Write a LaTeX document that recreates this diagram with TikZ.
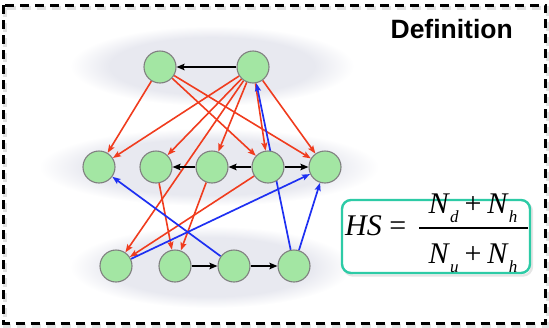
\documentclass[tikz,border=0pt]{standalone}
\usepackage{fontspec}
\setmainfont{Liberation Sans}
\newfontfamily\formulafont{Liberation Serif}
\usetikzlibrary{arrows.meta,backgrounds}

\definecolor{nodefill}{HTML}{A3E6A3}
\definecolor{nodeline}{HTML}{808080}
\definecolor{edgered}{HTML}{F03C1E}
\definecolor{edgeblue}{HTML}{1E30F2}
\definecolor{layerfill}{HTML}{E8E9F0}
\definecolor{boxline}{HTML}{2DCBA6}

% soft-edged layer band: flat core that fades out to white at the rim
\pgfdeclareradialshading{layershade}{\pgfpoint{0bp}{0bp}}{%
  color(0bp)=(layerfill); color(18bp)=(layerfill); color(25bp)=(white); color(50bp)=(white)}

% italic N with a lowered index
\newcommand\Nsub[1]{\textit{N}\raisebox{-0.3em}{\fontsize{17}{17}\selectfont\textit{#1}}}

\begin{document}
\begin{tikzpicture}[x=1pt,y=-1pt,
  vertex/.style={circle,draw=nodeline,fill=nodefill,line width=1.1pt,minimum size=32pt,inner sep=0pt},
  tip/.style={-{Stealth[length=8pt,width=6pt,inset=1.5pt]}},
  redline/.style={tip,draw=edgered,line width=1.6pt},
  blueline/.style={tip,draw=edgeblue,line width=1.7pt},
  blackline/.style={-{Stealth[length=8pt,width=6.5pt,inset=1.5pt]},draw=black,line width=2pt},
  formula/.style={font=\formulafont\fontsize{30}{30}\selectfont,inner sep=0pt}]

\useasboundingbox (0,0) rectangle (549,327);

% dashed outer frame with a faint shadow
\draw[gray!50,opacity=0.45,line width=4pt,dash pattern=on 9pt off 6pt] (5,7.5) rectangle (547.5,325.5);
\draw[line width=3pt,dash pattern=on 9pt off 6pt] (3.5,5) rectangle (545.5,323);

\node[anchor=base east,font=\fontsize{26.5}{30}\selectfont\bfseries,inner sep=0pt] (title) at (513,38) {Definition};

% vertices
\node[vertex] (t1) at (160,67) {};
\node[vertex] (t2) at (253,67) {};

\node[vertex] (m1) at (99,167) {};
\node[vertex] (m2) at (156,167) {};
\node[vertex] (m3) at (212,167) {};
\node[vertex] (m4) at (268,167) {};
\node[vertex] (m5) at (325,167) {};

\node[vertex] (b1) at (116,266) {};
\node[vertex] (b2) at (175,266) {};
\node[vertex] (b3) at (234,266) {};
\node[vertex] (b4) at (294,266) {};

\begin{scope}[on background layer]
  % layer bands
  \shade[shading=layershade] (212,66) ellipse [x radius=142pt, y radius=40pt];
  \shade[shading=layershade] (209,167) ellipse [x radius=170pt, y radius=39pt];
  \shade[shading=layershade] (211,267) ellipse [x radius=141pt, y radius=41pt];

  % red edges
  \draw[redline] (t1) -- (m1);
  \draw[redline] (t1) -- (m4);
  \draw[redline] (t1) -- (m5);
  \draw[redline] (t2) -- (m1);
  \draw[redline] (t2) -- (m2);
  \draw[redline] (t2) -- (m3);
  \draw[redline] (t2) -- (m4);
  \draw[redline] (t2) -- (m5);
  \draw[redline] (t2) -- (b1);
  \draw[redline] (m2) -- (b2);
  \draw[redline] (m3) -- (b2);
  \draw[redline] (m4) -- (b1);

  % blue edges
  \draw[blueline] (b3) -- (m1);
  \draw[blueline] (b1) -- (m5);
  \draw[blueline] (b4) -- (m5);
  \draw[blueline] (b4) -- (t2);

  % black edges
  \draw[blackline] (t2) -- (t1);
  \draw[blackline] (m3) -- (m2);
  \draw[blackline] (m4) -- (m3);
  \draw[blackline] (m4) -- (m5);
  \draw[blackline] (b2) -- (b3);
  \draw[blackline] (b3) -- (b4);
\end{scope}

% definition box
\node[draw=gray!40,opacity=0.5,line width=2.4pt,rounded corners=9pt,minimum width=188pt,minimum height=73pt] (boxshadow) at (438,239) {};
\node[draw=boxline,fill=white,line width=2.4pt,rounded corners=9pt,minimum width=188pt,minimum height=73pt] (defbox) at (436,236.5) {};
\node[formula,anchor=base west] (hs) at (345,235) {\textit{HS} =};
\node[formula,anchor=base] (num) at (473,213) {\Nsub{d}\hspace{6pt}+\hspace{6pt}\Nsub{h}};
\node[formula,anchor=base] (den) at (473,263) {\Nsub{u}\hspace{6pt}+\hspace{6pt}\Nsub{h}};
\draw[line width=1.5pt] (419,228) -- (528,228);
\end{tikzpicture}
\end{document}
